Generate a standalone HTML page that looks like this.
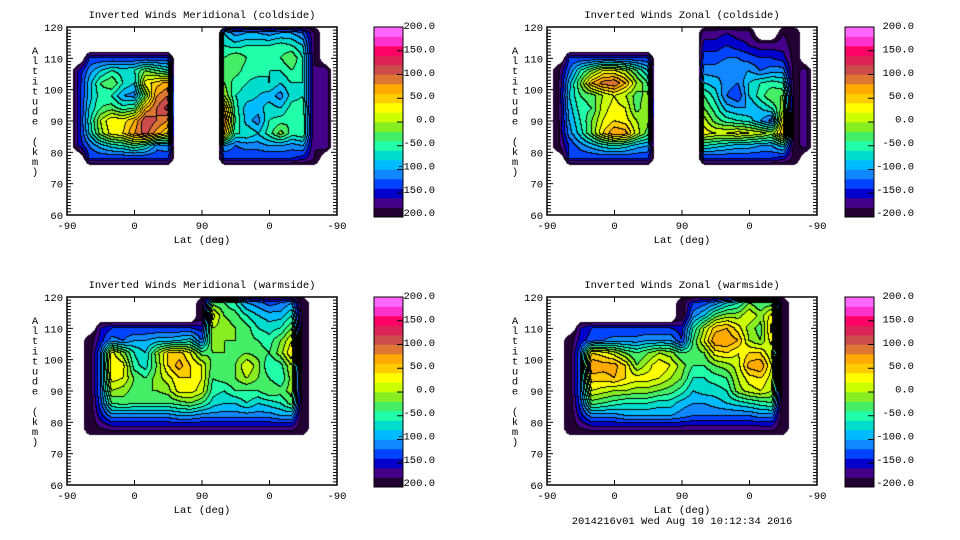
<!DOCTYPE html>
<html><head><meta charset="utf-8">
<style>
html,body{margin:0;padding:0;background:#fff;}
#root{position:relative;width:960px;height:540px;overflow:hidden;background:#fff;font-family:"Liberation Mono",monospace;}
canvas{position:absolute;}
svg{position:absolute;left:0;top:0;}
text{font-family:"Liberation Mono",monospace;font-size:10.5px;fill:#000;}
</style></head>
<body>
<div id="root">
<svg id="svg" width="960" height="540"></svg>
</div>
<script>
const N = null;
const colPos = [0,15,30,45,60,75,90,105,120,135,150,165,180,195,210,225,240,255,270,285,300,315,330,345,360];
const altNodes = [118,114,110,106,102,98,94,90,86,82,78];
const xTickLabels = ["-90","0","90","0","-90"];
const xTickPos = [0,90,180,270,360];
const yTicks = [60,70,80,90,100,110,120];
const cbarLabels = ["200.0","150.0","100.0","50.0","0.0","-50.0","-100.0","-150.0","-200.0"];
const cbarValues = [200,150,100,50,0,-50,-100,-150,-200];
const bandColors = ["#220033","#440088","#0000cc","#0044ff","#1188ff","#00bbff","#00ddcc","#22ffaa","#44ee66","#88ee22","#ccff00","#ffff00","#ffcc00","#ffaa00","#dd7733","#cc4c4c","#dd2255","#ff0066","#ff33cc","#ff66ff"];

const merCold = [
[N,N, N,N,N,N,N,N,N,N, N,N,N,N, -80,-110,-100,-100,-110,-100,-100,-120,-180, N,N],
[N,N, N,N,N,N,N,N,N,N, N,N,N,N, -60,-70,-60,-60,-60,-50,-60,-80,-180, N,N],
[N,N, -140,-140,-140,-140,-140,-140,-140,-140, N,N,N,N, -40,-20,-40,-50,-50,-40,-20,-60,-180, N,N],
[N,-160, -110,-80,-60,-70,-60,-20,-40,-60, N,N,N,N, -40,-30,-50,-50,-60,-60,-40,-60,-180, -160,N],
[N,-160, -90,-40,-20,-60,-80,30,50,70, N,N,N,N, -20,-50,-60,-70,-60,-80,-60,-60,-180, -160,N],
[N,-160, -90,-50,-60,-100,-110,-20,80,100, N,N,N,N, 0,-60,-70,-80,-90,-110,-70,-60,-180, -160,N],
[N,-160, -80,-40,-30,-50,-40,60,100,130, N,N,N,N, 60,-50,-90,-90,-70,-80,-50,-50,-180, -160,N],
[N,-160, -70,0,40,30,60,120,100,80, N,N,N,N, 100,-40,-90,-110,-60,-50,-40,-40,-180, -160,N],
[N,-160, -80,-10,30,40,80,110,70,40, N,N,N,N, 60,-60,-60,-80,-50,-10,-50,-40,-180, -160,N],
[N,-160, -120,-90,-70,-60,-40,-60,-110,-100, N,N,N,N, -100,-120,-110,-110,-100,-100,-110,-100,-180, -160,N],
[N,N, -140,-140,-140,-140,-140,-140,-140,-140, N,N,N,N, -140,-140,-140,-140,-140,-140,-140,-150,-180, N,N]
];
const zonCold = [
[N,N, N,N,N,N,N,N,N,N, N,N,N,N, -170,-170,-160,-170,-170,N,N,-180,-190, N,N],
[N,N, N,N,N,N,N,N,N,N, N,N,N,N, -150,-150,-140,-150,-160,-170,-170,-170,-190, N,N],
[N,N, -140,-140,-140,-140,-140,-140,-140,-140, N,N,N,N, -130,-130,-120,-120,-130,-140,-140,-150,-190, N,N],
[N,-190, -120,-60,-20,20,20,0,-40,-80, N,N,N,N, -110,-110,-100,-110,-100,-120,-110,-110,-190, -170,N],
[N,-190, -90,-20,60,90,100,60,0,-40, N,N,N,N, -80,-90,-110,-120,-80,-60,-50,-60,-190, -170,N],
[N,-190, -80,-40,-30,0,20,0,-30,-10, N,N,N,N, -40,-70,-120,-140,-80,-50,-20,-20,-190, -170,N],
[N,-190, -90,-50,-40,10,30,20,-30,0, N,N,N,N, -20,-50,-90,-100,-100,-80,-60,-10,-190, -170,N],
[N,-190, -100,-60,-20,20,40,30,0,-10, N,N,N,N, 10,-30,-50,-60,-70,-100,-130,40,-190, -170,N],
[N,-190, -110,-70,-20,40,80,70,10,-30, N,N,N,N, 30,20,20,30,20,10,-10,60,-190, -170,N],
[N,-190, -140,-110,-90,-70,-60,-70,-90,-100, N,N,N,N, -60,-70,-80,-90,-90,-100,-100,-70,-190, -170,N],
[N,N, -140,-140,-140,-140,-140,-140,-140,-140, N,N,N,N, -140,-140,-140,-140,-140,-140,-140,-150,-190, N,N]
];
const merWarm = [
[N,N,N, N,N,N,N,N,N,N,N,N, -200, -30,-40,-60,-100,-110,-130,-120,-100, -200, N,N,N],
[N,N,N, N,N,N,N,N,N,N,N,N, -200, 30,-20,-30,-60,-80,-90,-90,-60, -200, N,N,N],
[N,N,N, -160,-140,-140,-140,-140,-140,-140,-140,-140, -150, 0,-10,-20,-30,-60,-70,-60,-20, -200, N,N,N],
[N,N,-200, -150,-110,-120,-100,-100,-90,-90,-80,-70, -120, -10,-20,-20,-30,-40,-50,-20,20, -200, N,N,N],
[N,N,-200, -120,30,-10,-60,-80,-10,40,50,20, -30, -20,-20,-30,-20,-30,-40,-10,40, -200, N,N,N],
[N,N,-200, -120,40,30,-50,-70,-20,40,70,40, 20, -30,-40,-20,20,-10,-60,-50,0, -200, N,N,N],
[N,N,-200, -120,30,20,-20,-40,-10,10,40,40, 20, -40,-30,-20,0,-20,-40,-60,-10, -200, N,N,N],
[N,N,-200, -120,0,-10,-30,-20,-20,-10,30,30, 10, -50,-60,-40,-40,-40,-20,-30,-10, -200, N,N,N],
[N,N,-200, -130,-40,-30,-40,-40,-40,-40,-30,-20, -40, -70,-80,-80,-60,-80,-70,-60,-30, -200, N,N,N],
[N,N,-200, -150,-110,-110,-110,-110,-110,-110,-100,-100, -110, -110,-110,-110,-110,-110,-110,-100,-100, -200, N,N,N],
[N,N,-200, -180,-170,-170,-170,-170,-170,-170,-170,-170, -170, -170,-170,-170,-170,-170,-170,-170,-170, -200, N,N,N]
];
const zonWarm = [
[N,N,N, N,N,N,N,N,N,N,N,N, -200, -140,-130,-110,-80,-60,-20,-40,-30, -200, N,N,N],
[N,N,N, N,N,N,N,N,N,N,N,N, -200, -110,-80,-30,-10,-10,20,-10,30, -200, N,N,N],
[N,N,N, -160,-140,-140,-140,-140,-140,-140,-140,-140, -150, -60,0,50,60,30,-10,-30,50, -200, N,N,N],
[N,N,-200, -150,-130,-120,-110,-110,-110,-100,-100,-100, -140, -40,20,80,80,60,0,-20,30, -200, N,N,N],
[N,N,-200, -120,40,30,10,-20,-40,-20,0,-10, -40, -30,-20,30,40,20,40,40,0, -200, N,N,N],
[N,N,-200, -120,80,70,70,40,-20,10,40,20, -10, -40,-40,-20,-10,10,70,80,20, -200, N,N,N],
[N,N,-200, -120,50,50,60,40,30,30,20,0, -20, -60,-60,-50,-40,0,30,40,10, -200, N,N,N],
[N,N,-200, -120,20,10,0,0,-10,-10,-20,-30, -50, -80,-70,-70,-60,-10,10,20,0, -200, N,N,N],
[N,N,-200, -130,-30,-40,-50,-60,-60,-60,-70,-70, -90, -100,-100,-90,-80,-70,-60,-50,-40, -200, N,N,N],
[N,N,-200, -150,-110,-110,-110,-100,-100,-100,-100,-100, -110, -120,-120,-120,-120,-120,-120,-110,-110, -200, N,N,N],
[N,N,-200, -180,-170,-170,-170,-170,-170,-170,-170,-170, -170, -170,-170,-170,-170,-170,-170,-170,-170, -200, N,N,N]
];

const panels = [
 {name:"meridional-coldside", title:"Inverted Winds Meridional (coldside)", data:merCold, px:67, py:27, cx:374, lx:435},
 {name:"zonal-coldside", title:"Inverted Winds Zonal (coldside)", data:zonCold, px:547, py:27, cx:845, lx:914},
 {name:"meridional-warmside", title:"Inverted Winds Meridional (warmside)", data:merWarm, px:67, py:297, cx:374, lx:435},
 {name:"zonal-warmside", title:"Inverted Winds Zonal (warmside)", data:zonWarm, px:547, py:297, cx:845, lx:914}
];
const PW = 270, PH = 188;
const svg = document.getElementById('svg');
const root = document.getElementById('root');
const NS = "http://www.w3.org/2000/svg";
function mk(tag, attrs, parent){ const e=document.createElementNS(NS,tag); for(const k in attrs) e.setAttribute(k,attrs[k]); parent.appendChild(e); return e; }
function hex(c){ return [parseInt(c.substr(1,2),16),parseInt(c.substr(3,2),16),parseInt(c.substr(5,2),16)]; }
const rgb = bandColors.map(hex);
function band(v){ let b=Math.floor((v+200)/20); return Math.max(0,Math.min(19,b)); }

function sample(data, p, alt){
  let fi = p/15, fj = (118-alt)/4;
  if (fj < -0.6 || fj > 10.6) return null;
  fi = Math.max(0, Math.min(24, fi));
  const cfj = Math.max(0, Math.min(10, fj));
  const i0 = Math.min(23, Math.floor(fi)), j0 = Math.min(9, Math.floor(cfj));
  const fx = fi - i0, fy = cfj - j0;
  let s=0, w=0;
  const c = [[i0,j0,(1-fx)*(1-fy)],[i0+1,j0,fx*(1-fy)],[i0,j0+1,(1-fx)*fy],[i0+1,j0+1,fx*fy]];
  for (const [i,j,ww] of c){ const v=data[j][i]; if (v!==null && ww>0){ s+=v*ww; w+=ww; } }
  if (w === 0) return null;
  const v = s / w;
  let edge = 0;
  if (fj < 0) edge = -fj; else if (fj > 10) edge = fj-10;
  const wm = w * (1 - edge);
  if (wm < 0.5) return null;
  const f = Math.min(1, (1-wm)*1.7);
  return v + (-200 - v)*f;
}
const xScale = p => p*PW/360;
const yScale = a => (120-a)*PH/60;

panels.forEach(P=>{
  const cv = document.createElement('canvas');
  cv.width = PW; cv.height = PH;
  cv.style.left = P.px+'px'; cv.style.top = P.py+'px';
  
  
  root.insertBefore(cv, svg);
  const ctx = cv.getContext('2d');
  const img = ctx.createImageData(PW, PH);
  const B = new Int16Array(PW*PH);
  for (let y=0;y<PH;y++) for (let x=0;x<PW;x++){
    const p=(x+0.5)*360/PW, alt=120-(y+0.5)*60/PH;
    const v=sample(P.data,p,alt);
    B[y*PW+x] = v===null ? -1 : band(v);
  }
  for (let y=0;y<PH;y++) for (let x=0;x<PW;x++){
    const b=B[y*PW+x], k=(y*PW+x)*4;
    if (b<0){ img.data[k+3]=0; continue; }
    let line=false;
    if (x+1<PW){ const r=B[y*PW+x+1]; if (r>=0 && r!==b) line=true; }
    if (y+1<PH){ const d=B[(y+1)*PW+x]; if (d>=0 && d!==b) line=true; }
    const c = line ? [0,0,0] : rgb[b];
    img.data[k]=c[0];img.data[k+1]=c[1];img.data[k+2]=c[2];img.data[k+3]=255;
  }
  ctx.putImageData(img,0,0);

  const g = mk('g',{},svg);
  
  
  const t = mk('text',{x:P.px+PW/2,y:P.py-9,'text-anchor':'middle'},g);
  t.textContent = P.title;
  
  
  const frame = mk('rect',{x:P.px,y:P.py,width:PW,height:PH,fill:'none',stroke:'#000','stroke-width':1.5},g);
  
  
  for (let a=60;a<=120;a++){
    const y=P.py+yScale(a), L=(a%10===0)?6:4;
    mk('line',{x1:P.px,x2:P.px+L,y1:y,y2:y,stroke:'#000','stroke-width':1},g);
    mk('line',{x1:P.px+PW-L,x2:P.px+PW,y1:y,y2:y,stroke:'#000','stroke-width':1},g);
  }
  yTicks.forEach(a=>{
    const tl = mk('text',{x:P.px-4,y:P.py+yScale(a)+4,'text-anchor':'end'},g);
    tl.textContent = String(a);
    
    
  });
  xTickPos.forEach((p,i)=>{
    const x=P.px+xScale(p);
    mk('line',{x1:x,x2:x,y1:P.py+PH,y2:P.py+PH-5,stroke:'#000','stroke-width':1},g);
    mk('line',{x1:x,x2:x,y1:P.py,y2:P.py+5,stroke:'#000','stroke-width':1},g);
    const tl = mk('text',{x:x,y:P.py+PH+14,'text-anchor':'middle'},g);
    tl.textContent = xTickLabels[i];
    
    
  });
  const xt = mk('text',{x:P.px+PW/2,y:P.py+PH+28,'text-anchor':'middle'},g);
  xt.textContent = "Lat (deg)";
  
  
  const yt = mk('g',{},g);
  
  
  const label = "Altitude (km)";
  for (let i=0;i<label.length;i++){
    if (label[i]===' ') continue;
    const ch = mk('text',{x:P.px-32,y:P.py+27+i*10.1,'text-anchor':'middle'},yt);
    ch.textContent = label[i];
  }
  const cb = mk('g',{},g);
  
  
  const cbTop=P.py, cbH=190, cbW=29, bh=cbH/bandColors.length;
  bandColors.forEach((c,i)=>{
    const r = mk('rect',{x:P.cx,y:cbTop+cbH-(i+1)*bh,width:cbW,height:bh+0.3,fill:c},cb);
    
    
  });
  mk('rect',{x:P.cx,y:cbTop,width:cbW,height:cbH,fill:'none',stroke:'#000','stroke-width':1},cb);
  cbarValues.forEach((v,i)=>{
    const y=cbTop+(200-v)/400*cbH;
    if (v<200 && v>-200) mk('line',{x1:P.cx+cbW-6,x2:P.cx+cbW,y1:y,y2:y,stroke:'#000','stroke-width':1},cb);
    const tl = mk('text',{x:P.lx,y:P.py-2+i*23.4+4,'text-anchor':'end'},cb);
    tl.textContent = cbarLabels[i];
    
    
  });
});
const foot = mk('text',{x:682,y:524,'text-anchor':'middle'},svg);
foot.textContent = "2014216v01 Wed Aug 10 10:12:34 2016";


</script>
</body></html>
